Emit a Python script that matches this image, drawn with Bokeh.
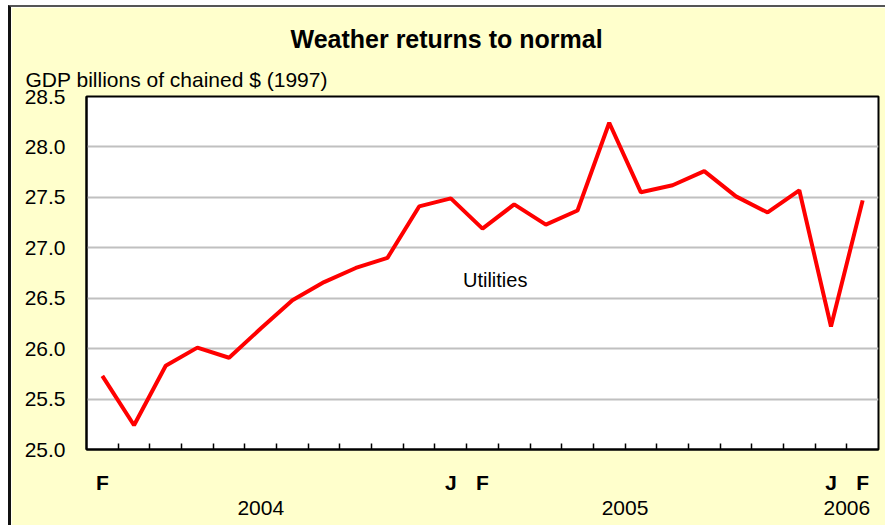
from bokeh.plotting import figure
from bokeh.models import Range1d, FixedTicker, LinearAxis, Label, Title, NumeralTickFormatter
from bokeh.embed import file_html
from bokeh.resources import INLINE

# ---- data ----
months = ["Feb 2004", "Mar 2004", "Apr 2004", "May 2004", "Jun 2004", "Jul 2004",
          "Aug 2004", "Sep 2004", "Oct 2004", "Nov 2004", "Dec 2004",
          "Jan 2005", "Feb 2005", "Mar 2005", "Apr 2005", "May 2005", "Jun 2005",
          "Jul 2005", "Aug 2005", "Sep 2005", "Oct 2005", "Nov 2005", "Dec 2005",
          "Jan 2006", "Feb 2006"]
utilities = [25.73, 25.24, 25.83, 26.01, 25.91, 26.20, 26.48, 26.66, 26.80, 26.90, 27.41,
             27.49, 27.19, 27.43, 27.23, 27.37, 28.24, 27.55, 27.62, 27.76, 27.51, 27.35, 27.57,
             26.22, 27.47]
month_letters = {"Feb 2004": "F", "Jan 2005": "J", "Feb 2005": "F", "Jan 2006": "J", "Feb 2006": "F"}
y_ticks = [25.0, 25.5, 26.0, 26.5, 27.0, 27.5, 28.0, 28.5]
series_label = "Utilities"
title_text = "Weather returns to normal"
y_label = "GDP billions of chained $ (1997)"

FONT = "Liberation Sans"
BG = "#FFFFCC"

n = len(months)
xs = [i + 0.5 for i in range(n)]
letter_pos = {xs[i]: month_letters[m] for i, m in enumerate(months) if m in month_letters}
boundaries = list(range(1, n))
years = []
for i, m in enumerate(months):
    yr = m.split()[1]
    if not years or years[-1][0] != yr:
        years.append([yr, i, i])
    else:
        years[-1][2] = i
year_pos = {(a + b + 1) / 2: yr for yr, a, b in years}

p = figure(width=877, height=520, x_range=Range1d(0, n), y_range=Range1d(y_ticks[0], y_ticks[-1]),
           output_backend="svg", toolbar_location=None, x_axis_type=None,
           min_border_left=75, min_border_right=10, min_border_bottom=78, min_border_top=89,
           background_fill_color="white", border_fill_color=BG)
p.styles = {"margin-left": "8px", "margin-top": "5px",
            "border-left": "3px solid #111111", "border-top": "2px solid #555555"}
p.outline_line_color = "black"
p.outline_line_width = 2

p.title.text = title_text
p.title.text_font = FONT
p.title.text_font_size = "25px"
p.title.text_font_style = "bold"
p.title.text_color = "black"
p.title.align = "left"
p.title.offset = 204
p.title.standoff = 16

sub = Title(text=y_label, text_font=FONT, text_font_size="21px", text_font_style="normal",
            text_color="black", align="left", offset=-61, standoff=11)
p.add_layout(sub, "above")

# y axis
ya = p.yaxis[0]
ya.ticker = FixedTicker(ticks=y_ticks)
ya.formatter = NumeralTickFormatter(format="0.0")
ya.major_tick_in = 0
ya.major_tick_out = 0
ya.minor_tick_line_color = None
ya.axis_line_width = 2
ya.axis_line_color = "black"
ya.major_label_standoff = 21
ya.major_label_text_font = FONT
ya.major_label_text_font_size = "21px"
ya.major_label_text_color = "black"
p.ygrid.grid_line_color = "#C0C0C0"
p.ygrid.grid_line_width = 2
p.xgrid.grid_line_color = None

# x axis with month letters and inner tick marks
xa = LinearAxis(ticker=FixedTicker(ticks=list(letter_pos.keys()), minor_ticks=boundaries),
                major_label_overrides=letter_pos,
                major_tick_in=0, major_tick_out=0,
                minor_tick_in=6, minor_tick_out=0, minor_tick_line_color="black", minor_tick_line_width=1.5,
                axis_line_width=2, axis_line_color="black",
                major_label_standoff=21, major_label_text_font=FONT, major_label_text_font_style="bold",
                major_label_text_font_size="21px", major_label_text_color="black")
p.add_layout(xa, "below")
ya2 = LinearAxis(ticker=FixedTicker(ticks=list(year_pos.keys())), major_label_overrides=year_pos,
                 axis_line_color=None, major_tick_line_color=None, minor_tick_line_color=None,
                 major_label_standoff=-2, major_label_text_font=FONT,
                 major_label_text_font_size="21px", major_label_text_color="black")
p.add_layout(ya2, "below")

p.line(xs, utilities, line_color="#FF0000", line_width=4)

p.add_layout(Label(x=12.9, y=26.68, text=series_label, text_align="center", text_baseline="middle",
                   text_font=FONT, text_font_size="20px", text_color="black"))

open("out.html", "w").write(file_html(p, INLINE))
